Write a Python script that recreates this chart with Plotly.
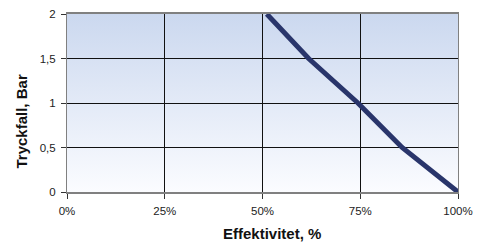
import plotly.graph_objects as go
import urllib.parse

# Data
efficiency_pct = [51.1, 61.8, 74.4, 85.7, 100]
pressure_bar = [2.0, 1.5, 1.0, 0.5, 0.0]
x_ticks = [0, 25, 50, 75, 100]
x_labels = ["0%", "25%", "50%", "75%", "100%"]
y_ticks = [0, 0.5, 1, 1.5, 2]

svg = ('<svg xmlns="http://www.w3.org/2000/svg" width="100" height="100" preserveAspectRatio="none">'
       '<defs><linearGradient id="g" x1="0" y1="0" x2="0" y2="1">'
       '<stop offset="0" stop-color="#cbd8ef"/><stop offset="1" stop-color="#fbfcff"/>'
       '</linearGradient></defs><rect width="100" height="100" fill="url(#g)"/></svg>')
src = "data:image/svg+xml;charset=utf-8," + urllib.parse.quote(svg)

W, H = 479, 242
L, R, T, B = 67, 21, 14, 50
PW, PH = W - L - R, H - T - B

fig = go.Figure()
fig.add_trace(go.Scatter(
    x=efficiency_pct, y=pressure_bar, mode="lines",
    line=dict(color="#29356b", width=5),
    showlegend=False, hoverinfo="skip"))

fig.update_layout(
    width=W, height=H,
    margin=dict(l=L, r=R, t=T, b=B, autoexpand=False),
    paper_bgcolor="white", plot_bgcolor="rgba(0,0,0,0)",
    separators=",.",
    font=dict(family="Liberation Sans, Arial, sans-serif", size=11.5, color="#222"),
    images=[dict(source=src, xref="paper", yref="paper", x=0, y=1,
                 sizex=1, sizey=1, sizing="stretch", layer="below")],
    xaxis=dict(range=[0, 100], tickvals=x_ticks, ticktext=x_labels,
               showgrid=True, gridcolor="#111", gridwidth=1,
               showline=True, linecolor="#808080", linewidth=2, mirror=True,
               ticks="outside", ticklen=5, tickcolor="#333", zeroline=False,
               ticklabelstandoff=2, ticklabeloverflow="allow", automargin=False),
    yaxis=dict(range=[0, 2], tickvals=y_ticks, tickformat=".1~f",
               showgrid=True, gridcolor="#111", gridwidth=1,
               showline=True, linecolor="#808080", linewidth=1, mirror=True,
               ticks="outside", ticklen=5, tickcolor="#333", zeroline=False,
               ticklabelstandoff=3, ticklabeloverflow="allow", automargin=False),
    annotations=[
        dict(text="<b>Effektivitet, %</b>", xref="paper", yref="paper",
             x=(272 - L) / PW, y=-(233 - (T + PH)) / PH,
             xanchor="center", yanchor="middle", showarrow=False,
             font=dict(size=15, color="#111")),
        dict(text="<b>Tryckfall, Bar</b>", xref="paper", yref="paper",
             x=-(L - 21.5) / PW, y=((T + PH) - 122) / PH,
             xanchor="center", yanchor="middle", textangle=-90, showarrow=False,
             font=dict(size=15, color="#111")),
    ],
)

fig.write_html("out.html", config={"displayModeBar": False},
               post_script="document.body.style.margin='0';document.body.style.overflow='hidden';")
